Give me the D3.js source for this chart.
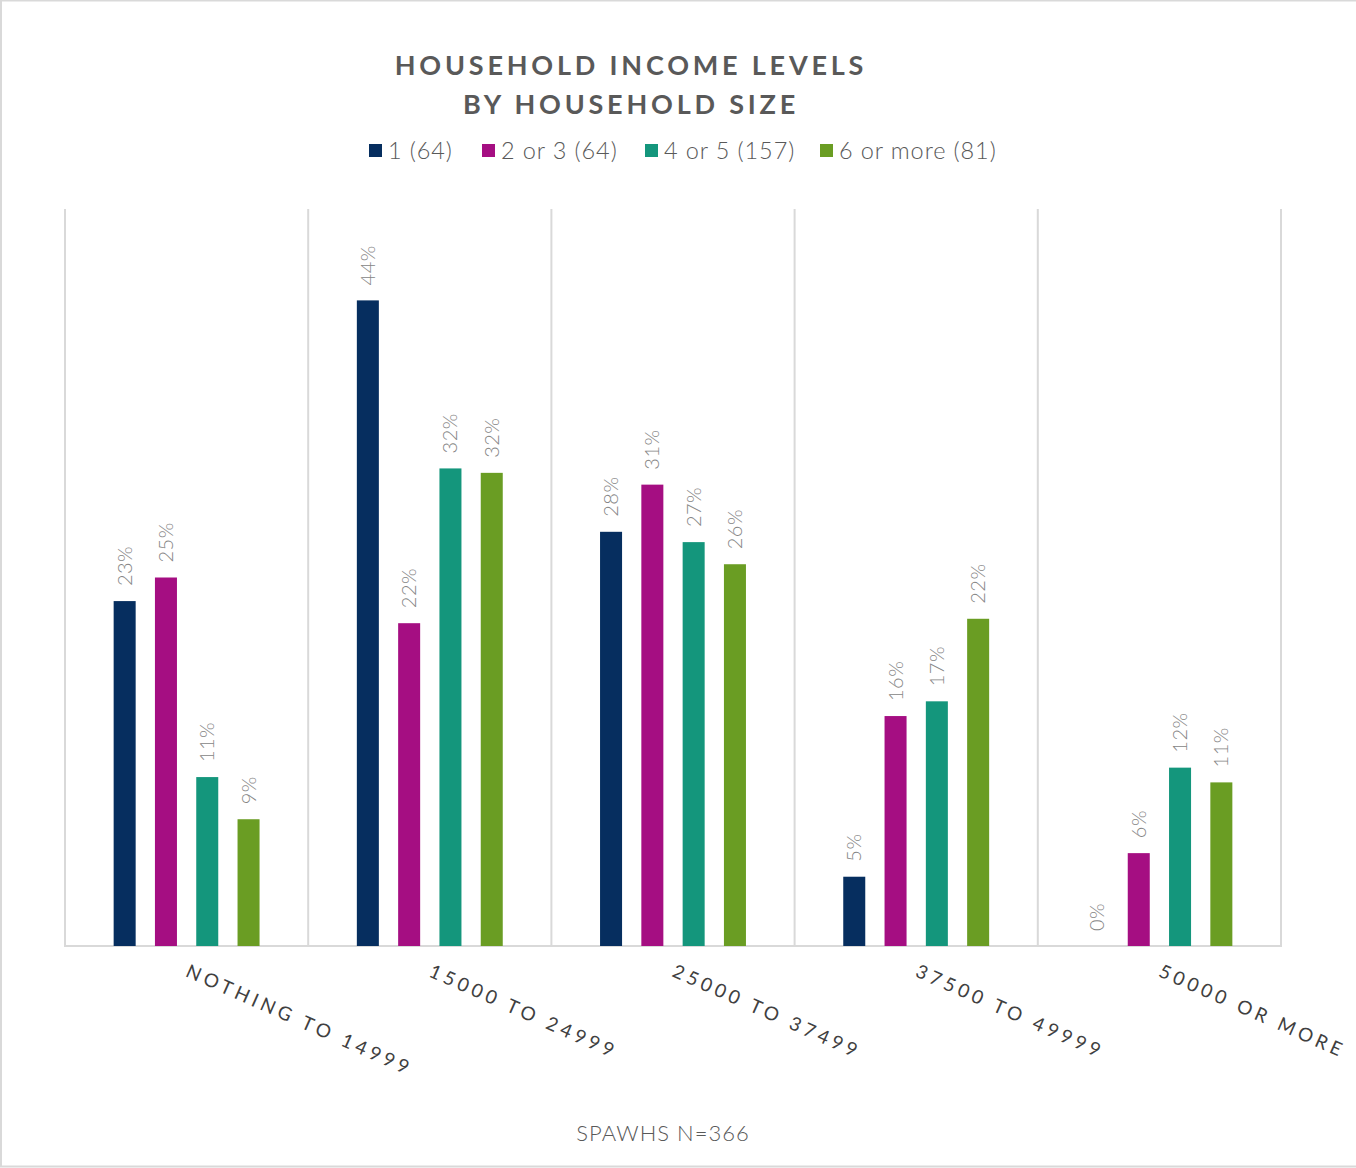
<!DOCTYPE html>
<html>
<head>
<meta charset="utf-8">
<script src="https://cdn.jsdelivr.net/npm/d3@7"></script>
<style>
  html, body { margin: 0; padding: 0; background: #fff; }
  svg { display: block; }
  text { font-family: "Lato", "Open Sans", sans-serif; }
</style>
</head>
<body>
<svg id="chart" width="1356" height="1168"></svg>
<script>
// Income brackets (x categories)
const categories = ["NOTHING TO 14999", "15000 TO 24999", "25000 TO 37499", "37500 TO 49999", "50000 OR MORE"];

// Household-size groups (legend entries)
const seriesNames = ["1 (64)", "2 or 3 (64)", "4 or 5 (157)", "6 or more (81)"];
const seriesColors = ["#062e5f", "#a50e82", "#14967c", "#6a9d23"];

// Share of each household-size group per income bracket, in percent
const size1 = [23.4, 43.8, 28.1, 4.7, 0];
const size2to3 = [25.0, 21.9, 31.3, 15.6, 6.3];
const size4to5 = [11.46, 32.4, 27.4, 16.6, 12.1];
const size6plus = [8.6, 32.1, 25.9, 22.2, 11.1];
const seriesValues = [size1, size2to3, size4to5, size6plus];

const yMax = 50;
const titleLines = ["HOUSEHOLD INCOME LEVELS", "BY HOUSEHOLD SIZE"];
const footnote = "SPAWHS N=366";

const svg = d3.select("#chart");
const W = 1356, H = 1168;

// outer frame
svg.append("rect")
  .attr("x", 1).attr("y", 0.5).attr("width", W + 10).attr("height", H - 2)
  .attr("fill", "none").attr("stroke", "#d9d9d9").attr("stroke-width", 2);

const plot = { left: 65, right: 1281, top: 209, bottom: 946 };

const x0 = d3.scaleBand().domain(categories).range([plot.left, plot.right]).padding(0);
const x1 = d3.scaleBand().domain(seriesNames).range([0, x0.bandwidth()])
  .paddingInner(0.467).paddingOuter(1.178);
const y = d3.scaleLinear().domain([0, yMax]).range([plot.bottom, plot.top]);

// vertical category separators
const grid = svg.append("g");
const edges = categories.map(c => x0(c)).concat([plot.right]);
grid.selectAll("line").data(edges).join("line")
  .attr("x1", d => d).attr("x2", d => d)
  .attr("y1", plot.top).attr("y2", plot.bottom)
  .attr("stroke", "#d9d9d9").attr("stroke-width", 2);

// baseline
svg.append("line")
  .attr("x1", plot.left - 1).attr("x2", plot.right + 1)
  .attr("y1", plot.bottom).attr("y2", plot.bottom)
  .attr("stroke", "#d9d9d9").attr("stroke-width", 2);

// bars and value labels
const rows = [];
categories.forEach((c, ci) => {
  seriesNames.forEach((s, si) => {
    rows.push({ cat: c, series: s, color: seriesColors[si], value: seriesValues[si][ci] });
  });
});

svg.append("g").selectAll("rect").data(rows).join("rect")
  .attr("x", d => x0(d.cat) + x1(d.series))
  .attr("y", d => y(d.value))
  .attr("width", x1.bandwidth())
  .attr("height", d => y(0) - y(d.value))
  .attr("fill", d => d.color);

svg.append("g").selectAll("text").data(rows).join("text")
  .attr("transform", d => {
    const cx = x0(d.cat) + x1(d.series) + x1.bandwidth() / 2;
    const cy = y(d.value) - 15;
    return `translate(${cx + 7},${cy}) rotate(-90)`;
  })
  .attr("text-anchor", "start")
  .attr("font-size", 20)
  .attr("font-weight", 300)
  .attr("letter-spacing", 0.5)
  .attr("fill", "#858585")
  .text(d => Math.round(d.value) + "%");

// category labels, slanted
svg.append("g").selectAll("text").data(categories).join("text")
  .attr("transform", c => `translate(${x0(c) + x0.bandwidth() / 2 - 2},${plot.bottom + 30}) rotate(24)`)
  .attr("text-anchor", "start")
  .attr("font-size", 19)
  .attr("letter-spacing", 4.2)
  .attr("fill", "#404040")
  .text(c => c);

// title
svg.append("g").selectAll("text").data(titleLines).join("text")
  .attr("x", 631).attr("y", (d, i) => 75 + i * 39)
  .attr("text-anchor", "middle")
  .attr("font-size", 27)
  .attr("font-weight", 700)
  .attr("letter-spacing", 3.8)
  .attr("fill", "#595959")
  .text(d => d);

// legend
const legendX = [369, 482, 645, 820];
const legend = svg.append("g").selectAll("g").data(seriesNames).join("g")
  .attr("transform", (d, i) => `translate(${legendX[i]},150)`);
legend.append("rect")
  .attr("x", 0).attr("y", -6).attr("width", 13).attr("height", 13)
  .attr("fill", (d, i) => seriesColors[i]);
legend.append("text")
  .attr("x", 19).attr("y", 9)
  .attr("font-size", 23.5)
  .attr("font-weight", 300)
  .attr("letter-spacing", 0.9)
  .attr("fill", "#595959")
  .text(d => d);

// footnote
svg.append("text")
  .attr("x", 663).attr("y", 1141)
  .attr("text-anchor", "middle")
  .attr("font-size", 22)
  .attr("font-weight", 300)
  .attr("letter-spacing", 1)
  .attr("fill", "#595959")
  .text(footnote);
</script>
</body>
</html>
